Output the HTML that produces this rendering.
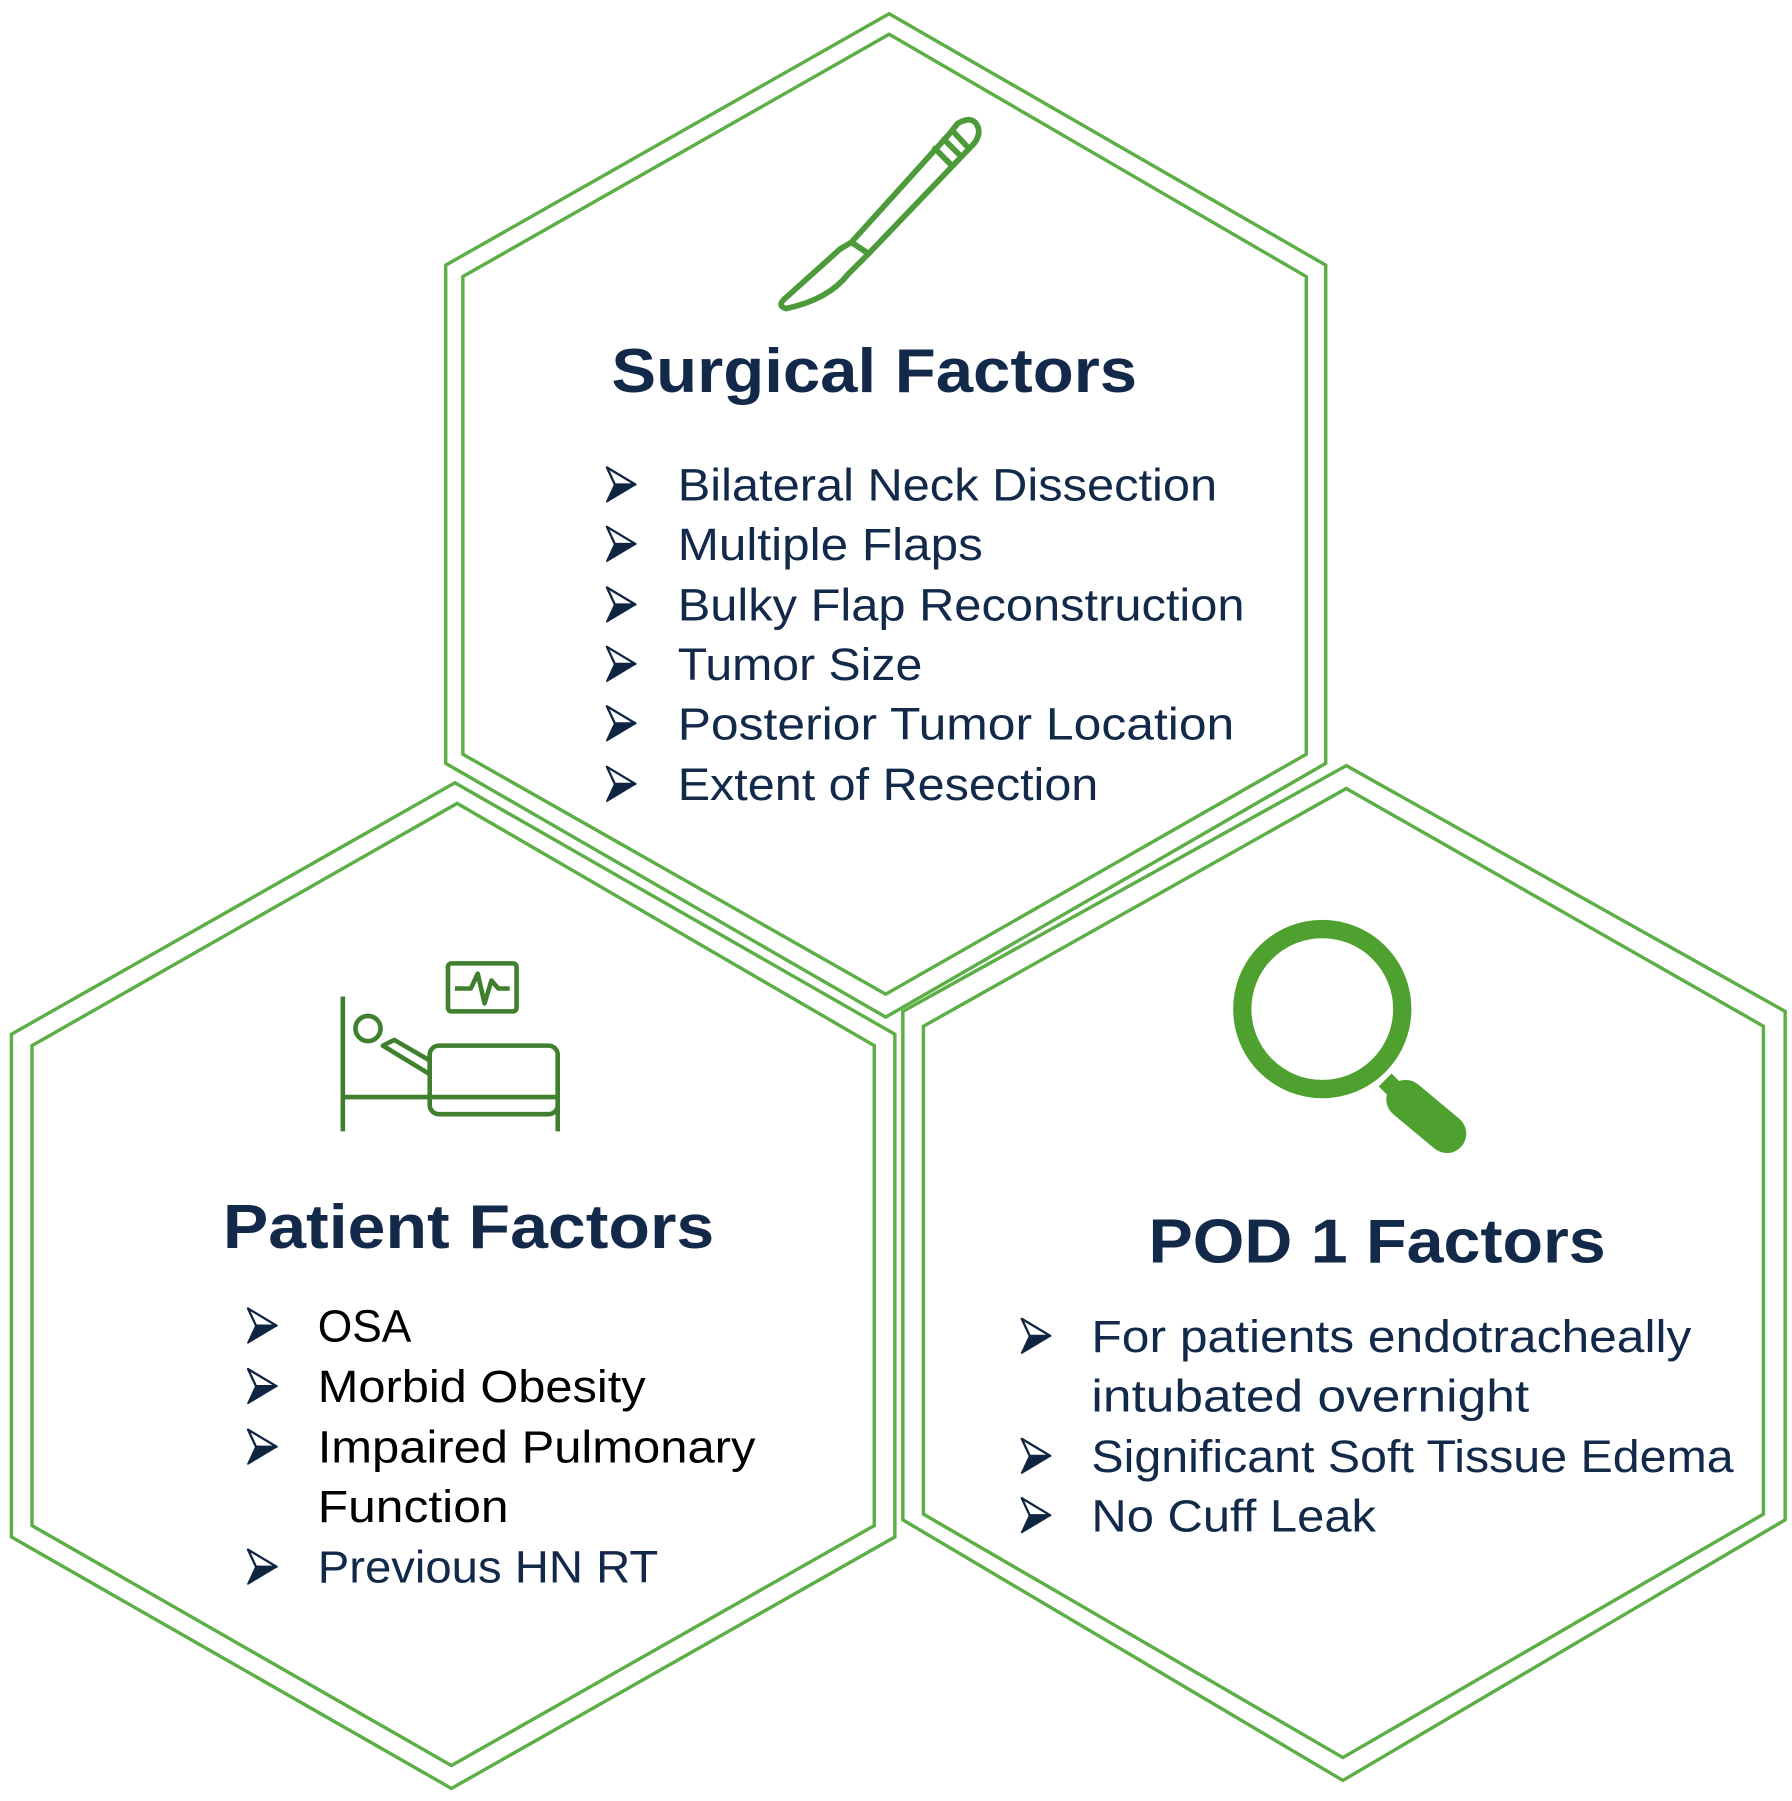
<!DOCTYPE html>
<html><head><meta charset="utf-8"><style>
html,body{margin:0;padding:0;background:#fff;}
svg{display:block}
</style></head><body>
<svg width="1792" height="1801" viewBox="0 0 1568 1576" preserveAspectRatio="none" xmlns="http://www.w3.org/2000/svg">
<defs>
<g id="ar">
<path d="M1,1 L26,16 L8,16 Z" fill="#fff" stroke="#0f2440" stroke-width="2" stroke-linejoin="round"/>
<path d="M8,16 L26,16 L1,31 Z" fill="#0f2440" stroke="#0f2440" stroke-width="1.5" stroke-linejoin="round"/>
</g>
</defs>
<g fill="none" stroke="#5cae46" stroke-width="3" stroke-linejoin="miter">
<polygon points="778,12 1160,232 1160,668 775,890 390,668 390,232"/>
<polygon points="778,30 1143,242 1143,660 775,870 405,660 405,242"/>
<polygon points="398,685 783,905 783,1345 395,1565 10,1345 10,905"/>
<polygon points="400,703 765,915 765,1335 395,1545 28,1335 28,915"/>
<polygon points="1178,670 1562,885 1562,1330 1175,1558 790,1330 790,885"/>
<polygon points="1178,690 1543,898 1543,1325 1175,1538 808,1325 808,898"/>
</g>
<g fill="none" stroke="#4c9a3a" stroke-width="5" stroke-linejoin="round" stroke-linecap="round">
<path d="M838,108 Q852,100 856,112 Q858,120 850,128 L760,222 L745,212 L830,118 Z"/>
<path d="M818,130 L832,144 M826,122 L840,136 M834,115 L846,128"/>
<path d="M745,212 L760,222 L742,240 Q725,262 688,270 Q680,268 686,262 L735,218 Z"/>
</g>
<g fill="none" stroke="#3f7f2e" stroke-width="4" stroke-linejoin="round">
<line x1="300" y1="872" x2="300" y2="990"/>
<line x1="300" y1="960" x2="488" y2="960"/>
<line x1="488" y1="925" x2="488" y2="990"/>
<rect x="376" y="915" width="112" height="60" rx="8"/>
<circle cx="322" cy="900" r="11"/>
<path d="M335,915 L376,940 L376,928 L345,910 Z"/>
<rect x="392" y="843" width="60" height="42" rx="3"/>
<path d="M398,865 L412,865 L418,852 L424,878 L430,858 L436,865 L446,865"/>
</g>
<circle cx="1157" cy="883" r="70" fill="none" stroke="#4fa12f" stroke-width="16"/>
<line x1="1212" y1="945" x2="1224" y2="957" stroke="#4fa12f" stroke-width="16"/>
<line x1="1230" y1="962" x2="1266" y2="992" stroke="#4fa12f" stroke-width="34" stroke-linecap="round"/>
<g font-family="Liberation Sans, sans-serif" fill="#12294a">
<text x="535" y="343" font-size="54" font-weight="bold" textLength="460" lengthAdjust="spacingAndGlyphs">Surgical Factors</text>
<text x="195" y="1092" font-size="54" font-weight="bold" textLength="430" lengthAdjust="spacingAndGlyphs">Patient Factors</text>
<text x="1005" y="1105" font-size="54" font-weight="bold" textLength="400" lengthAdjust="spacingAndGlyphs">POD 1 Factors</text>
</g>
<use href="#ar" x="530" y="408"/><use href="#ar" x="530" y="460"/><use href="#ar" x="530" y="513"/><use href="#ar" x="530" y="565"/><use href="#ar" x="530" y="617"/><use href="#ar" x="530" y="670"/>
<use href="#ar" x="216" y="1144"/><use href="#ar" x="216" y="1197"/><use href="#ar" x="216" y="1250"/><use href="#ar" x="216" y="1355"/>
<use href="#ar" x="893" y="1153"/><use href="#ar" x="893" y="1258"/><use href="#ar" x="893" y="1310"/>
<g font-family="Liberation Sans, sans-serif" font-size="40" fill="#12294a">
<text x="593" y="438" textLength="472" lengthAdjust="spacingAndGlyphs">Bilateral Neck Dissection</text>
<text x="593" y="490" textLength="267" lengthAdjust="spacingAndGlyphs">Multiple Flaps</text>
<text x="593" y="543" textLength="496" lengthAdjust="spacingAndGlyphs">Bulky Flap Reconstruction</text>
<text x="593" y="595" textLength="214" lengthAdjust="spacingAndGlyphs">Tumor Size</text>
<text x="593" y="647" textLength="487" lengthAdjust="spacingAndGlyphs">Posterior Tumor Location</text>
<text x="593" y="700" textLength="368" lengthAdjust="spacingAndGlyphs">Extent of Resection</text>
<text x="278" y="1385" textLength="298" lengthAdjust="spacingAndGlyphs">Previous HN RT</text>
<text x="955" y="1183" textLength="525" lengthAdjust="spacingAndGlyphs">For patients endotracheally</text>
<text x="955" y="1235" textLength="383" lengthAdjust="spacingAndGlyphs">intubated overnight</text>
<text x="955" y="1288" textLength="562" lengthAdjust="spacingAndGlyphs">Significant Soft Tissue Edema</text>
<text x="955" y="1340" textLength="249" lengthAdjust="spacingAndGlyphs">No Cuff Leak</text>
</g>
<g font-family="Liberation Sans, sans-serif" font-size="40" fill="#000">
<text x="278" y="1174" textLength="82" lengthAdjust="spacingAndGlyphs">OSA</text>
<text x="278" y="1227" textLength="287" lengthAdjust="spacingAndGlyphs">Morbid Obesity</text>
<text x="278" y="1280" textLength="383" lengthAdjust="spacingAndGlyphs">Impaired Pulmonary</text>
<text x="278" y="1332" textLength="167" lengthAdjust="spacingAndGlyphs">Function</text>
</g>
</svg>
</body></html>
